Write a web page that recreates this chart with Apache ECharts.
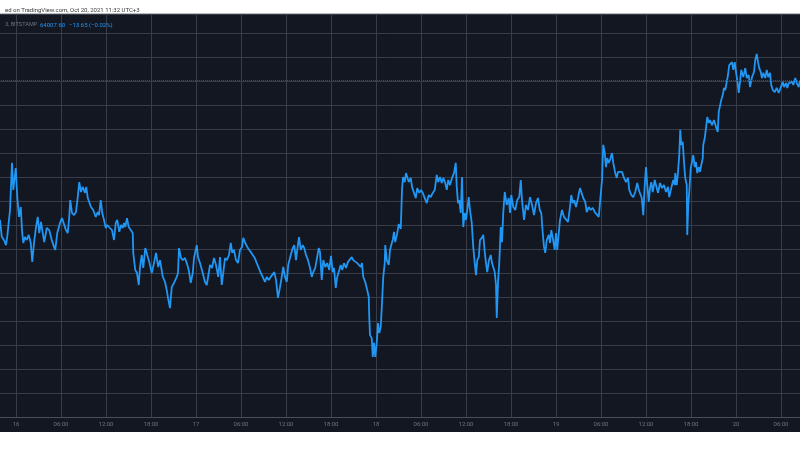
<!DOCTYPE html>
<html>
<head>
<meta charset="utf-8">
<script src="https://cdn.jsdelivr.net/npm/echarts@6/dist/echarts.min.js"></script>
<style>
  html, body { margin: 0; padding: 0; background: #ffffff; overflow: hidden; }
  #panel { position: absolute; left: 0; top: 13px; width: 800px; height: 419px; background: #131722; border-top: 1px solid #b8bcc6; box-sizing: border-box; }
  #chart { position: absolute; left: -29px; top: 0; width: 829px; height: 450px; }
</style>
</head>
<body>
<div id="panel"></div>
<div id="chart"></div>
<script>
// Time: minutes since Oct 15 00:00 (UTC+3); price: BTCUSD, Bitstamp
const timeMin = [
  1312,1326,1344,1360,1370,1384,1392,1408,1418,1430,1438,1450,1464,1478,1488,1498,1512,1526,1542,1558,1570,1584,1600,1614,1626,1640,1654,1666,1686,1706,1726,1744,1754,1770,1792,1808,1824,1840,1854,1866,1874,1888,1904,1920,1934,1946,1960,1974,1992,2002,2014,2026,2040,2058,2078,2094,2104,2118,2130,2144,2158,2170,2192,2208,2224,2238,2250,2266,2280,2294,2304,2314,2328,2342,2358,2374,2378,2394,2408,2422,2432,2446,2458,2474,2490,2506,2526,2544,2560,2578,
  2592,2614,2632,2646,2656,2672,2686,2704,2726,2736,2744,2760,2774,2792,2806,2822,2838,2854,2864,2886,2896,2912,2934,2952,2966,2982,2992,3008,3024,3040,3058,3072,3086,3098,3112,3126,3144,3158,3170,3184,3200,3216,3232,3248,3258,3274,3290,3306,3318,3334,3350,3366,3382,3398,3414,3432,3446,3462,3478,3494,3506,3520,3536,3552,3566,3578,3592,3606,3618,3638,3654,3666,3680,3690,3704,3718,3734,3746,3760,3776,3792,3806,3818,3834,3850,3862,
  3872,3886,3898,3914,3930,3946,3960,3974,3984,3998,4010,4024,4038,4050,4064,4080,4096,4112,4126,4138,4154,4170,4186,4198,4208,4218,4234,4250,4262,4266,4272,4286,4294,4304,4314,4326,4336,4346,4358,4368,4378,4390,4394,4406,4422,4432,4442,4454,4464,4474,4490,4502,4518,4528,4536,4550,4560,4570,4582,4598,4608,4622,4638,4650,4666,4680,4694,4710,4726,4742,4758,4774,4790,4806,4818,4832,4846,4858,4872,4886,4898,4912,4928,4944,4958,4966,4976,4986,4998,5008,5018,5030,5040,5050,5062,5072,5086,5098,5110,5120,5130,5142,5152,
  5166,5178,5190,5200,5210,5224,5238,5248,5258,5270,5280,5286,5296,5306,5318,5328,5338,5350,5366,5382,5392,5402,5418,5434,5450,5466,5478,5488,5504,5520,5536,5552,5568,5584,5600,5616,5630,5642,5654,5664,5674,5686,5702,5712,5722,5734,5750,5760,5770,5782,5792,5808,5824,5840,5856,5872,5882,5894,5906,5920,5936,5952,5968,5978,5994,6006,6022,6038,6054,6070,6086,6102,6118,6128,6138,6150,6160,6170,6182,6192,6208,6218,6234,6246,6256,6272,6288,6304,6320,6336,6346,6362,6378,6394,6410,6422,6432,
  6446,6458,6470,6480,6490,6502,6512,6522,6534,6550,6560,6576,6592,6608,6624,6640,6656,6666,6682,6698,6710,6714,6726,6736,6746,6754,6762,6774,6784,6794,6806,6810,6818,6826,6838,6848,6858,6870,6880,6890,6902,6912,6922,6934,6938,6950,6960,6970,6982,6992,7008,7024,7040,7054,7062,7072,7082,7094,7104,7114,7126,7136,7146,7158,7168,7178,7190,7200,7210,7222,7232,7242,7258,7274,7286,7302,7312,7328,7344,7354,7366,7376,7386,7398,7408,7418,7434,7446,7458,7472,7482,7494,7510,7526,7542,7558,7574,7584,7600,7610,7622,7638,7648,7658,7674,7686,7702,7712
];
const price = [
  61685,61405,61350,61265,61405,61400,61850,62635,62185,62400,62550,62065,61735,61900,61515,61300,61400,61350,61435,61300,60985,61300,61565,61735,61465,61650,61465,61315,61550,61515,61350,61235,61185,61465,61635,61715,61685,61515,61465,61735,62015,61800,61765,61815,62065,62315,62150,62235,62135,62235,62050,62040,61900,61850,61735,61815,61765,62015,61800,61685,61550,61600,61550,61515,61350,61635,61685,61485,61600,61550,61635,61565,61715,61565,61550,61465,61135,60850,60800,60600,60900,61100,60885,61215,61185,60985,60800,60965,61135,60900,
  61015,60740,60650,60515,60385,60215,60565,60635,60735,60800,61215,61050,61015,61050,60965,60850,60635,60800,61050,61265,61065,60965,60800,60650,60600,60800,60935,60885,61050,60935,60735,61065,60600,60800,61050,61015,61100,61300,61135,61185,61015,60965,61185,61235,61385,61300,61235,61265,61150,61135,61050,60965,60885,60800,60735,60650,60735,60685,60735,60715,60815,60685,60385,60565,60735,60900,60735,60650,60935,61100,61215,61265,61015,61185,61400,61185,61265,61215,61100,61015,60885,60735,60815,60885,60900,61215,
  61150,60685,61015,60900,60965,60850,61085,60815,60885,60550,60735,60765,60935,60850,60965,60885,60985,60965,61065,61015,61010,60965,60985,60900,60965,60735,60650,60515,60400,60065,59765,59715,59400,59635,59400,59635,59965,59800,59900,60300,60735,60965,61265,61015,60935,61185,61265,61350,61485,61315,61465,61615,61535,62185,62400,62315,62465,62485,62315,62385,62235,62265,62050,62215,62135,62185,62135,62150,61965,62100,62065,62135,62185,62435,62315,62400,62300,62385,62315,62185,62350,62265,62385,62465,62635,62235,61965,62015,61800,62400,61565,61800,61685,61850,62065,61850,61635,61235,60965,60765,61015,61065,61350,
  61385,61435,61150,60965,60815,61015,61100,60965,60985,60815,60600,60050,60635,60965,61565,61315,61800,62150,61935,62050,61800,62100,61900,61850,62015,62065,62350,62015,61685,61935,61850,62065,61935,61765,61965,62050,61850,61800,61465,61235,61135,61350,61435,61300,61515,61385,61185,61465,61185,61465,61685,61850,61735,61765,61650,61900,62100,61965,62015,61900,62050,62215,62235,62050,61985,61815,61900,61850,61885,61815,61800,61735,61765,62350,62935,62800,62565,62715,62635,62685,62800,62635,62465,62385,62485,62465,62485,62385,62315,62385,62185,62100,62065,62150,62300,62185,62130,
  62050,61765,62265,62565,62265,61985,62215,62315,62150,62350,62265,62135,62300,62215,62265,62150,62235,62065,62215,62350,62265,62465,62265,62485,62765,63185,62935,62985,62650,62385,62265,61435,61935,62150,62550,62650,62765,62565,62650,62465,62565,62485,62600,62715,62935,63050,63215,63400,63300,63350,63265,63350,63235,63150,63485,63465,63685,63765,63885,63850,63985,64100,64265,64235,64315,64185,64315,64150,64015,63800,63985,64185,64065,64215,64050,64100,63900,64065,64150,64350,64450,64315,64215,64150,64050,64135,64050,64185,64065,64135,63935,63850,63815,63885,63800,63815,63985,63900,63965,63885,63965,63935,63985,63935,64050,63965,63900,64007.6
];
const lastPrice = 64007.60;
const headerText = 'ed on TradingView.com, Oct 20, 2021 11:32 UTC+3';
const symbolText = '3, BITSTAMP';
const priceText = '64007.60';
const changeText = '\u221213.65 (\u22120.02%)';

const n = Math.min(timeMin.length, price.length);
const seriesData = [];
for (let i = 0; i < n; i++) seriesData.push([timeMin[i], price[i]]);

const chart = echarts.init(document.getElementById('chart'), null, { renderer: 'canvas' });
const grid = '#383c48';
const fontFam = 'Roboto, "Noto Sans", sans-serif';
const off = 29; // the chart canvas starts 29px left of the page
chart.setOption({
  backgroundColor: 'transparent',
  animation: false,
  title: [
    { text: headerText, left: off, top: 2, textStyle: { fontSize: 6, fontWeight: 'normal', color: '#3a3a3a', fontFamily: fontFam } },
    { text: symbolText, left: off, top: 17, textStyle: { fontSize: 5.6, fontWeight: 'normal', color: '#6d717c', fontFamily: fontFam } },
    { text: priceText, left: off + 35, top: 17, textStyle: { fontSize: 6, fontWeight: 'normal', color: '#2196f3', fontFamily: fontFam } },
    { text: changeText, left: off + 64, top: 17, textStyle: { fontSize: 6, fontWeight: 'normal', color: '#2196f3', fontFamily: fontFam } }
  ],
  grid: { left: 0, right: 0, top: 14, bottom: 33, containLabel: false },
  xAxis: {
    type: 'value', min: 1080, max: 7712, interval: 360,
    axisLine: { show: true, lineStyle: { color: '#4a4e5a', width: 1 } },
    axisTick: { show: false },
    splitLine: { show: true, lineStyle: { color: grid, width: 1 } },
    axisLabel: {
      show: true, margin: 4, fontSize: 6, color: '#6d717c', fontFamily: fontFam,
      showMinLabel: false, showMaxLabel: false,
      formatter: function (v) {
        if (v % 1440 === 0) return String(15 + v / 1440);
        const h = (v % 1440) / 60;
        return (h < 10 ? '0' : '') + h + ':00';
      }
    }
  },
  yAxis: {
    type: 'value', min: 58400, max: 65116.67, interval: 400,
    axisLine: { show: false }, axisTick: { show: false }, axisLabel: { show: false },
    splitLine: { show: true, lineStyle: { color: grid, width: 1 } }
  },
  series: [{
    type: 'line',
    data: seriesData,
    showSymbol: false,
    lineStyle: { color: '#2196f3', width: 1.8 },
    markLine: {
      silent: true, symbol: 'none', label: { show: false },
      lineStyle: { color: '#3e4a63', type: 'dotted', width: 1 },
      data: [{ yAxis: lastPrice }]
    }
  }]
});
</script>
</body>
</html>
